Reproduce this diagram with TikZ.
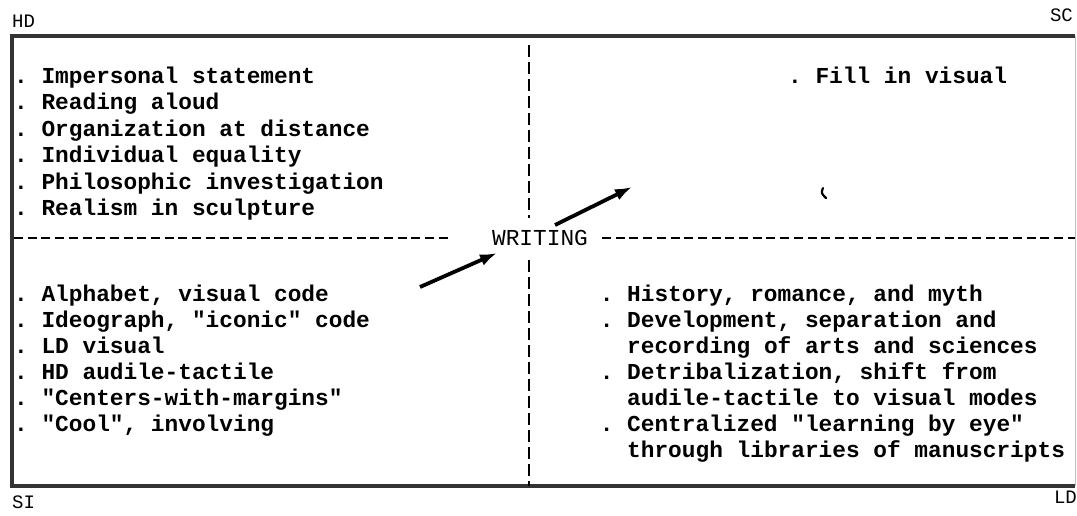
\documentclass[tikz,border=0pt]{standalone}
\usepackage{fontspec}
\setmonofont{Liberation Mono}
\usetikzlibrary{arrows.meta}
\begin{document}
\begin{tikzpicture}[x=1pt,y=-1pt,
  itm/.style={anchor=base west, inner sep=0pt, font=\fontsize{22.8}{26}\selectfont\ttfamily\bfseries},
  corner/.style={anchor=base west, inner sep=0pt, font=\fontsize{19}{22}\selectfont\ttfamily},
  frame/.style={line width=3.5pt, draw=black!80},
  hdash/.style={line width=2.4pt, dash pattern=on 9pt off 4.7pt},
  vdash/.style={line width=2.6pt, dash pattern=on 12pt off 5pt},
  bigarrow/.style={line width=3.8pt, -{Latex[length=17pt,width=12pt]}}
]
\useasboundingbox (0,0) rectangle (1077,515);
% frame
\coordinate (tl) at (12,36);
\coordinate (tr) at (1075,36);
\coordinate (bl) at (12,486);
\coordinate (br) at (1075,486);
\draw[frame] (tr) -- (tl) -- (bl) -- (br);
\draw[line width=0.8pt, draw=black!25] (tr) -- (br);
% corner labels
\node[corner] (hd) at (12,27) {HD};
\node[corner, anchor=base east] (sc) at (1073,21) {SC};
\node[corner] (si) at (12,508) {SI};
\node[corner, anchor=base east] (ld) at (1077,503) {LD};
% centre label
\node[inner sep=2pt, font=\fontsize{22.8}{26}\selectfont\ttfamily] (wr) at (540,238) {WRITING};
% dashed axes
\coordinate (hl) at (14,238);
\coordinate (hr) at (1075,238);
\coordinate (vt) at (529,45);
\coordinate (vb) at (529,486);
\draw[hdash] (hl) -- (450,238);
\draw[hdash] (602,238) -- (hr);
\draw[vdash] (vt) -- (529,218);
\draw[vdash] (529,260) -- (vb);
% arrows
\coordinate (a1s) at (420,287);
\coordinate (a1e) at (497,253);
\coordinate (a2s) at (555,225);
\coordinate (a2e) at (632,187);
\draw[bigarrow] (a1s) -- (a1e);
\draw[bigarrow] (a2s) -- (a2e);
% stray mark
\draw[line width=2.2pt, line cap=round] (823,188) .. controls (821,193) .. (826,198);
% upper left
\node[itm] (u1) at (14,83) {. Impersonal statement};
\node[itm] (u2) at (14,109.5) {. Reading aloud};
\node[itm] (u3) at (14,136) {. Organization at distance};
\node[itm] (u4) at (14,162.5) {. Individual equality};
\node[itm] (u5) at (14,189) {. Philosophic investigation};
\node[itm] (u6) at (14,215.5) {. Realism in sculpture};
% upper right
\node[itm] (r1) at (788,83) {. Fill in visual};
% lower left
\node[itm] (l1) at (14,301) {. Alphabet, visual code};
\node[itm] (l2) at (14,327) {. Ideograph, "iconic" code};
\node[itm] (l3) at (14,353) {. LD visual};
\node[itm] (l4) at (14,379) {. HD audile-tactile};
\node[itm] (l5) at (14,405) {. "Centers-with-margins"};
\node[itm] (l6) at (14,431) {. "Cool", involving};
% lower right
\node[itm] (m1) at (599.6,301) {. History, romance, and myth};
\node[itm] (m2) at (599.6,327) {. Development, separation and};
\node[itm] (m3) at (627,353) {recording of arts and sciences};
\node[itm] (m4) at (599.6,379) {. Detribalization, shift from};
\node[itm] (m5) at (627,405) {audile-tactile to visual modes};
\node[itm] (m6) at (599.6,431) {. Centralized "learning by eye"};
\node[itm] (m7) at (627,457) {through libraries of manuscripts};
\end{tikzpicture}
\end{document}
